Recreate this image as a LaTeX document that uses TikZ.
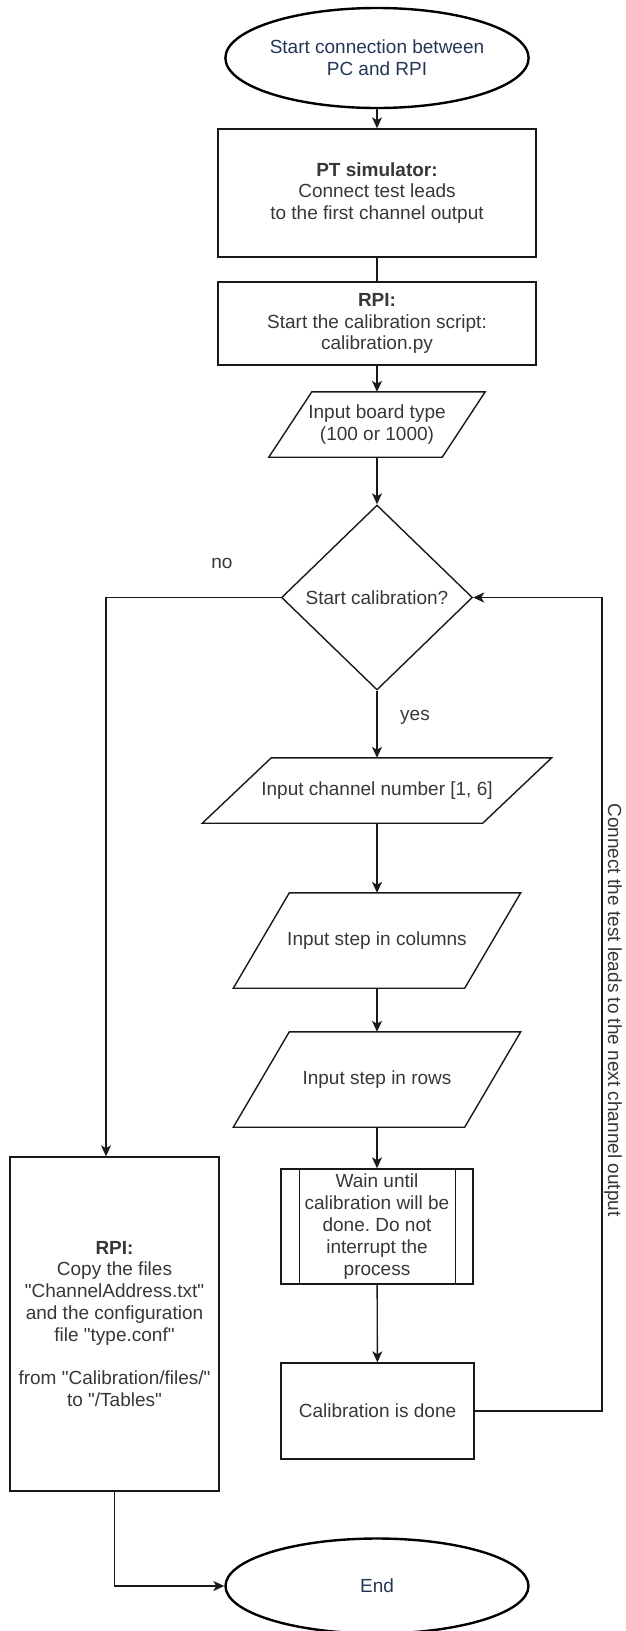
\documentclass[tikz,border=0pt]{standalone}
\usepackage{fontspec}
\setmainfont{Liberation Sans}[Ligatures=TeXOff]
\frenchspacing
\usetikzlibrary{arrows.meta,shapes.geometric,calc}
\definecolor{txt}{RGB}{55,55,55}
\definecolor{termtxt}{RGB}{35,55,85}
\definecolor{ln}{RGB}{25,25,25}
\begin{document}
\begin{tikzpicture}[x=1pt,y=-1pt,
  every node/.style={font=\fontsize{19}{21.8}\selectfont, text=txt, inner sep=0pt, align=center},
  term/.style={ellipse, draw=black, line width=2.4pt, minimum width=303pt, text=termtxt},
  proc/.style={rectangle, draw=ln, line width=1.4pt},
  outline/.style={draw=ln, line width=1.4pt},
  plain/.style={draw=ln, line width=1.4pt},
  conn/.style={draw=ln, line width=1.4pt, -{Stealth[length=11pt,width=10pt,inset=3pt]}},
]
\useasboundingbox (0,0) rectangle (625,1631);

% terminals and process boxes
\node[term, minimum height=100pt] (start) at (377,58) {Start connection between\\PC and RPI};
\node[proc, minimum width=318pt, minimum height=128pt] (pt) at (377,193) {\textbf{PT simulator:}\\Connect test leads\\to the first channel output};
\node[proc, minimum width=318pt, minimum height=83pt] (rpi) at (377,323.5) {\textbf{RPI:}\\Start the calibration script:\\calibration.py};

% input parallelograms
\node[minimum width=173pt, minimum height=65pt] (board) at (377,424.5) {Input board type\\(100 or 1000)};
\draw[outline] ([xshift=-21.5pt]board.south west) -- ([xshift=-21.5pt]board.south east) -- ([xshift=21.5pt]board.north east) -- ([xshift=21.5pt]board.north west) -- cycle;

\node[diamond, draw=ln, line width=1.4pt, minimum width=191pt, minimum height=185pt] (dec) at (377,597.5) {Start calibration?};

\node[minimum width=280pt, minimum height=65pt] (chan) at (377,790.5) {Input channel number [1, 6]};
\draw[outline] ([xshift=-34.5pt]chan.south west) -- ([xshift=-34.5pt]chan.south east) -- ([xshift=34.5pt]chan.north east) -- ([xshift=34.5pt]chan.north west) -- cycle;

\node[minimum width=231pt, minimum height=95pt] (cols) at (377,940.5) {Input step in columns};
\draw[outline] ([xshift=-28pt]cols.south west) -- ([xshift=-28pt]cols.south east) -- ([xshift=28pt]cols.north east) -- ([xshift=28pt]cols.north west) -- cycle;

\node[minimum width=231pt, minimum height=95pt] (rows) at (377,1079.5) {Input step in rows};
\draw[outline] ([xshift=-28pt]rows.south west) -- ([xshift=-28pt]rows.south east) -- ([xshift=28pt]rows.north east) -- ([xshift=28pt]rows.north west) -- cycle;

% subprocess
\node[proc, minimum width=192pt, minimum height=115pt] (wait) at (377,1226.5) {Wain until\\calibration will be\\done. Do not\\interrupt the\\process};
\draw[plain] ([xshift=19pt]wait.north west) -- ([xshift=19pt]wait.south west);
\draw[plain] ([xshift=-18pt]wait.north east) -- ([xshift=-18pt]wait.south east);

\node[proc, minimum width=193pt, minimum height=96pt] (done) at (377.5,1411) {Calibration is done};

\node[proc, minimum width=209pt, minimum height=334pt] (copy) at (114.5,1324) {\textbf{RPI:}\\Copy the files\\"ChannelAddress.txt"\\and the configuration\\file "type.conf"\\~\\from "Calibration/files/"\\to "/Tables"};

\node[term, minimum height=95pt] (end) at (377,1586) {End};

% labels
\node (no) at (222,563) {no};
\node (yes) at (415,717) {yes};
\node[rotate=-90] (loop) at (613,1010) {Connect the test leads to the next channel output};

% connectors
\coordinate (rt) at (602,597.5);
\coordinate (lt) at (106,597.5);
\draw[conn] (start) -- (pt);
\draw[plain] (pt) -- (rpi);
\draw[conn] (rpi) -- (board);
\draw[conn] (board) -- (dec);
\draw[conn] (dec) -- (chan);
\draw[conn] (chan) -- (cols);
\draw[conn] (cols) -- (rows);
\draw[conn] (rows) -- (wait);
\draw[conn] (wait) -- (done);
\draw[conn] (done.east) -| (rt) -- (dec.east);
\draw[conn] (dec.west) -- (lt) -- (lt |- copy.north);
\draw[conn] (copy.south) |- (end.west);
\end{tikzpicture}
\end{document}
